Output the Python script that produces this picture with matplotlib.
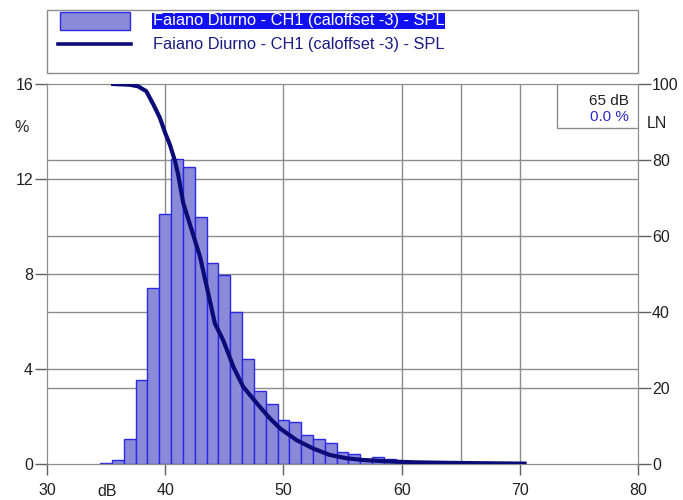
import matplotlib.pyplot as plt
from matplotlib.patches import Rectangle
from matplotlib.lines import Line2D

plt.rcParams['font.family'] = ['Liberation Sans', 'DejaVu Sans']

# histogram: 1 dB classes, centred on integer dB
bin_centers = list(range(35, 71))
bin_pct = [0.05, 0.18, 1.05, 3.54, 7.42, 10.53, 12.83, 12.52, 10.41, 8.45,
           7.96, 6.41, 4.42, 3.09, 2.54, 1.85, 1.78, 1.22, 1.04, 0.87,
           0.52, 0.41, 0.21, 0.28, 0.20, 0.13, 0.10, 0.09, 0.07, 0.06,
           0.05, 0.04, 0.04, 0.03, 0.02, 0.01]

# cumulative LN curve
ln_db = [35.6, 37.0, 37.7, 38.4, 39.0, 39.55, 40.0, 40.4, 40.83, 41.1, 41.53,
         42.24, 42.94, 43.6, 44.2, 44.9, 45.4, 45.76, 46.6, 47.88, 48.8, 49.7,
         51.1, 52.5, 53.9, 55.35, 56.76, 58.2, 59.6, 61.0, 64.0, 67.0, 70.4]
ln_val = [100.0, 99.8, 99.4, 98.1, 94.6, 91.1, 87.1, 84.0, 79.7, 76.1, 68.6,
          61.6, 54.6, 45.5, 37.0, 32.6, 28.6, 25.6, 20.3, 15.5, 12.2, 9.4,
          6.3, 4.1, 2.4, 1.5, 1.05, 0.8, 0.6, 0.45, 0.3, 0.2, 0.1]

cursor_db = 65
legend_label = "Faiano Diurno - CH1 (caloffset -3) - SPL"

grid_col = "#8c8c8c"
bar_face = "#8a8ad8"
bar_edge = "#2a2ae6"
line_col = "#0c0c78"
txt_col = "#202020"

fig = plt.figure(figsize=(6.83, 5), dpi=100)
ax = fig.add_axes([0.0688, 0.072, 0.8654, 0.760])
ax2 = ax.twinx()

ax.set_xlim(30, 80)
ax.set_ylim(0, 16)
ax2.set_ylim(0, 100)

# grid lines from both axes
for v in [4, 8, 12]:
    ax.axhline(v, color=grid_col, lw=1, zorder=0)
for v in [20, 40, 60, 80]:
    ax.axhline(v * 16 / 100, color=grid_col, lw=1, zorder=0)
for v in [40, 50, 60, cursor_db, 70]:
    ax.axvline(v, color=grid_col, lw=1, zorder=0)

ax.bar(bin_centers, bin_pct, width=1.0, color=bar_face, edgecolor=bar_edge,
       linewidth=1, zorder=2)
ax2.plot(ln_db, ln_val, color=line_col, lw=3, zorder=3)
ax2.patch.set_visible(False)

ax.set_xticks([30, 40, 50, 60, 70, 80])
ax.set_yticks([0, 4, 8, 12, 16])
ax2.set_yticks([0, 20, 40, 60, 80, 100])
for a in (ax, ax2):
    a.tick_params(labelsize=11.5, length=9, width=1, color="#606060",
                  labelcolor=txt_col, pad=1)
    for s in a.spines.values():
        s.set_color(grid_col)
ax.tick_params(axis="x", length=8, pad=6)

fig.text(0.032, 0.735, "%", fontsize=11.5, ha="center", color=txt_col)
fig.text(0.962, 0.745, "LN", fontsize=11.5, ha="center", color=txt_col)
fig.text(0.157, 0.008, "dB", fontsize=11.5, ha="center", color=txt_col)

# cursor box top-right
ax2.add_patch(Rectangle((0.863, 0.885), 0.137, 0.115, transform=ax2.transAxes,
                        facecolor="white", edgecolor=grid_col, lw=1, zorder=5))
ax2.text(0.985, 0.955, "65 dB", transform=ax2.transAxes, ha="right", va="center",
         fontsize=11, color=txt_col, zorder=6)
ax2.text(0.985, 0.913, "0.0 %", transform=ax2.transAxes, ha="right", va="center",
         fontsize=11, color="#2a2ad0", zorder=6)

# legend box
fig.patches.append(Rectangle((0.0688, 0.854), 0.865, 0.126, transform=fig.transFigure,
                             facecolor="white", edgecolor=grid_col, lw=1))
fig.patches.append(Rectangle((0.088, 0.940), 0.102, 0.036, transform=fig.transFigure,
                             facecolor=bar_face, edgecolor=bar_edge, lw=1))
fig.lines.append(Line2D([0.085, 0.192], [0.912, 0.912], transform=fig.transFigure,
                        color=line_col, lw=2.6))
fig.text(0.224, 0.958, legend_label, fontsize=11.8, va="center", color="white",
         bbox=dict(facecolor="#1010f0", edgecolor="none", pad=0.5))
fig.text(0.224, 0.912, legend_label, fontsize=11.8, va="center", color="#1a1a80")

fig.savefig("out.png", dpi=100)
